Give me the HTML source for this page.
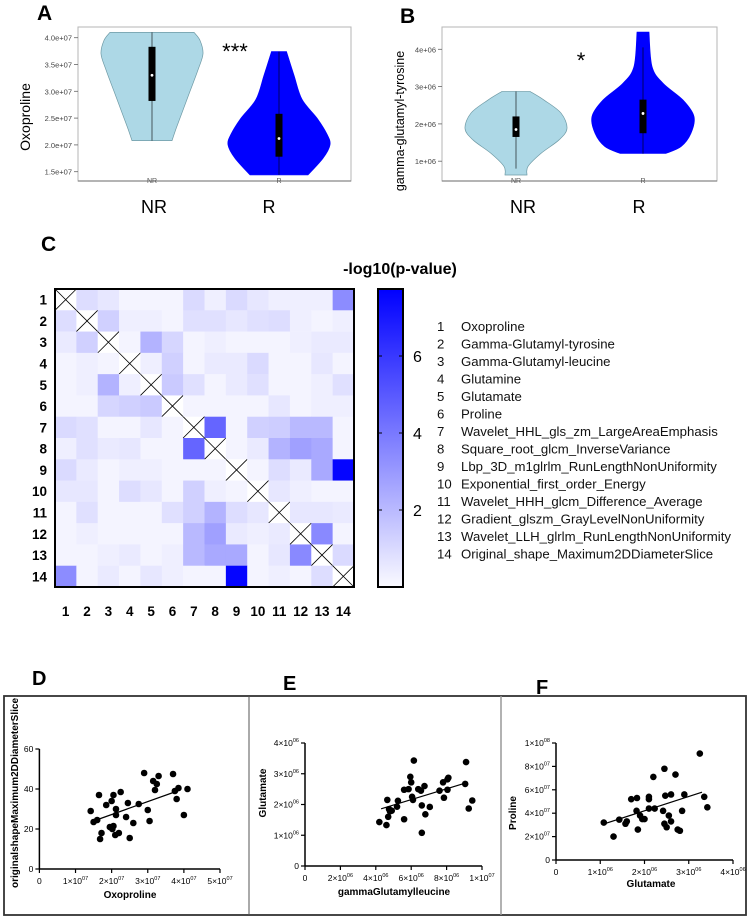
<!DOCTYPE html>
<html><head><meta charset="utf-8"><title>Figure</title>
<style>
html,body{margin:0;padding:0;background:#fff;}
svg{display:block;font-family:"Liberation Sans",Arial,sans-serif;}
</style></head>
<body>
<svg id="fig" width="749" height="918" viewBox="0 0 749 918" xmlns="http://www.w3.org/2000/svg">
<rect x="0" y="0" width="749" height="918" fill="#fff"/>
<text x="37" y="20" font-size="21" font-weight="bold">A</text>
<text x="400" y="23" font-size="21" font-weight="bold">B</text>
<text x="41" y="251" font-size="21" font-weight="bold">C</text>
<text x="32" y="685" font-size="20" font-weight="bold">D</text>
<text x="283" y="690" font-size="20" font-weight="bold">E</text>
<text x="536" y="694" font-size="20" font-weight="bold">F</text>

<g id="pa"></g>
<g id="pb"></g>
<g id="pc"></g>
<g id="pdef"></g>
</svg>
<script>
const NS="http://www.w3.org/2000/svg";
function mk(parent,tag,attrs,text){const e=document.createElementNS(NS,tag);for(const k in attrs)e.setAttribute(k,attrs[k]);if(text!==undefined)e.textContent=text;parent.appendChild(e);return e;}

// ---------- Violin data ----------
const aGroups=["NR","R"];
const aTicks=[1.5,2.0,2.5,3.0,3.5,4.0];
const aTickLabels=["1.5e+07","2.0e+07","2.5e+07","3.0e+07","3.5e+07","4.0e+07"];
const aNRProfileVal=[4.10,3.95,3.70,3.40,3.00,2.60,2.30,2.08];
const aNRProfileHW=[42,48,51,46,38,30,24,20];
const aRProfileVal=[3.74,3.30,2.85,2.50,2.20,2.00,1.75,1.44];
const aRProfileHW=[7.5,15,23,38,48,51,44,29];
const aBoxQ1=[2.82,1.78], aBoxQ3=[3.83,2.58], aMedian=[3.30,2.12];
const aWhiskLo=[2.08,1.44], aWhiskHi=[4.10,3.74];
const bGroups=["NR","R"];
const bTicks=[1,2,3,4];
const bTickLabels=["1e+06","2e+06","3e+06","4e+06"];
const bNRProfileVal=[2.87,2.64,2.29,1.88,1.57,1.21,0.86,0.63];
const bNRProfileHW=[14,28,45,51,43,25,12,11];
const bRProfileVal=[4.46,3.54,3.09,2.64,2.20,1.75,1.39,1.21];
const bRProfileHW=[6,9,20,40,51,48,38,23];
const bBoxQ1=[1.65,1.75], bBoxQ3=[2.20,2.65], bMedian=[1.85,2.28];
const bWhiskLo=[0.80,1.20], bWhiskHi=[2.87,4.05];

function smoothPath(pts){let d="M"+pts[0][0]+","+pts[0][1];for(let i=0;i<pts.length-1;i++){const p0=pts[i-1]||pts[i],p1=pts[i],p2=pts[i+1],p3=pts[i+2]||p2;const c1=[p1[0]+(p2[0]-p0[0])/6,p1[1]+(p2[1]-p0[1])/6];const c2=[p2[0]-(p3[0]-p1[0])/6,p2[1]-(p3[1]-p1[1])/6];d+=` C${c1[0]},${c1[1]} ${c2[0]},${c2[1]} ${p2[0]},${p2[1]}`;}return d;}
function violinPath(cx,vals,hws,y){const L=vals.map((v,i)=>[cx-hws[i],y(v)]);const R=vals.map((v,i)=>[cx+hws[i],y(v)]).reverse();
 let d=smoothPath(L);d+=" L"+R[0][0]+","+R[0][1];d+=smoothPath(R).replace(/^M[^C]*/," ");d+=" Z";return d;}

function violinPanel(g,o){
 const box=mk(g,"rect",{x:o.x0,y:27,width:o.x1-o.x0,height:154,fill:"none",stroke:"#b5b5b5","stroke-width":1});
 
 mk(g,"line",{x1:o.x0,y1:181,x2:o.x1,y2:181,stroke:"#888","stroke-width":1.2});
 o.ticks.forEach((t,i)=>{const yy=o.y(t);
  mk(g,"line",{x1:o.x0-4,y1:yy,x2:o.x0,y2:yy,stroke:"#666","stroke-width":0.8});
  const tl=mk(g,"text",{x:o.x0-6,y:yy+3,"font-size":7.5,"text-anchor":"end",fill:"#444"},o.tickLabels[i]);
  });
 const vs=[[o.nrV,o.nrH,"#add8e6","#6f9aa5"],[o.rV,o.rH,"#0000ff","#0000ff"]];
 vs.forEach((v,i)=>{const cx=o.cx[i];
  const p=mk(g,"path",{d:violinPath(cx,v[0],v[1],o.y),fill:v[2],stroke:v[3],"stroke-width":0.7});
  
  mk(g,"line",{x1:cx,y1:o.y(o.wHi[i]),x2:cx,y2:o.y(o.wLo[i]),stroke:"#000","stroke-width":0.6});
  const b=mk(g,"rect",{x:cx-3.5,y:o.y(o.q3[i]),width:7,height:o.y(o.q1[i])-o.y(o.q3[i]),fill:"#000"});
  
  mk(g,"circle",{cx:cx,cy:o.y(o.med[i]),r:1.4,fill:"#fff"});
  mk(g,"text",{x:cx,y:183,"font-size":7,"text-anchor":"middle",fill:"#555"},o.groups[i]);
  const bl=mk(g,"text",{x:o.bigX[i],y:213,"font-size":18,"text-anchor":"middle",fill:"#000"},o.groups[i]);
  
 });
 const st=mk(g,"text",{x:o.starX,y:o.starY,"font-size":22,"text-anchor":"middle"},o.star);
 
 const yt=mk(g,"text",{x:0,y:0,"font-size":o.tfs,"text-anchor":"middle",transform:`translate(${o.titleX},${o.titleY}) rotate(-90)`},o.title);
 
}
violinPanel(document.getElementById("pa"),{x0:78,x1:351,y:v=>37.7+(4.0-v)*53.6,ticks:aTicks,tickLabels:aTickLabels,
 nrV:aNRProfileVal,nrH:aNRProfileHW,rV:aRProfileVal,rH:aRProfileHW,q1:aBoxQ1,q3:aBoxQ3,med:aMedian,wLo:aWhiskLo,wHi:aWhiskHi,
 groups:aGroups,cx:[152,279],bigX:[154,269],star:"***",starX:235,starY:59,title:"Oxoproline",titleX:30,titleY:117,tfs:14});
violinPanel(document.getElementById("pb"),{x0:442,x1:717,y:v=>49.3+(4-v)*37.3,ticks:bTicks,tickLabels:bTickLabels,
 nrV:bNRProfileVal,nrH:bNRProfileHW,rV:bRProfileVal,rH:bRProfileHW,q1:bBoxQ1,q3:bBoxQ3,med:bMedian,wLo:bWhiskLo,wHi:bWhiskHi,
 groups:bGroups,cx:[516,643],bigX:[523,639],star:"*",starX:581,starY:68,title:"gamma-glutamyl-tyrosine",titleX:404,titleY:121,tfs:12.5});

// ---------- Heatmap ----------
const hmLabels=["1","2","3","4","5","6","7","8","9","10","11","12","13","14"];
const hmNames=["Oxoproline","Gamma-Glutamyl-tyrosine","Gamma-Glutamyl-leucine","Glutamine","Glutamate","Proline","Wavelet_HHL_gls_zm_LargeAreaEmphasis","Square_root_glcm_InverseVariance","Lbp_3D_m1glrlm_RunLengthNonUniformity","Exponential_first_order_Energy","Wavelet_HHH_glcm_Difference_Average","Gradient_glszm_GrayLevelNonUniformity","Wavelet_LLH_glrlm_RunLengthNonUniformity","Original_shape_Maximum2DDiameterSlice"];
const hmValues=[
[null,0.9,0.6,0.2,0.2,0.2,1.0,0.35,1.0,0.6,0.35,0.35,0.35,3.4],
[0.9,null,1.3,0.35,0.35,0.2,0.8,0.8,0.6,0.8,0.9,0.35,0.2,0.35],
[0.5,1.3,null,0.2,2.2,1.1,0.2,0.35,0.2,0.2,0.2,0.35,0.5,0.5],
[0.2,0.35,0.2,null,0.35,1.3,0.2,0.5,0.5,1.0,0.2,0.2,0.6,0.2],
[0.2,0.35,2.2,0.35,null,1.5,0.8,0.2,0.5,0.8,0.2,0.2,0.35,0.8],
[0.2,0.2,1.1,1.3,1.5,null,0.2,0.2,0.2,0.2,0.6,0.2,0.35,0.35],
[1.0,0.8,0.2,0.2,0.6,0.2,null,4.6,0.2,1.3,1.4,2.0,2.0,0.2],
[0.35,0.8,0.5,0.6,0.2,0.2,4.6,null,0.2,0.5,2.2,2.8,2.5,0.2],
[1.0,0.5,0.2,0.35,0.35,0.2,0.2,0.2,null,0.2,0.9,0.5,2.5,7.6],
[0.6,0.6,0.2,0.9,0.6,0.2,1.3,0.35,0.2,null,0.6,0.35,0.2,0.2],
[0.2,0.8,0.2,0.2,0.2,0.8,1.3,2.2,0.9,0.6,null,0.6,0.6,0.5],
[0.2,0.35,0.2,0.2,0.2,0.2,2.0,2.8,0.5,0.35,0.5,null,3.5,0.2],
[0.2,0.2,0.35,0.5,0.2,0.35,2.0,2.5,2.5,0.2,0.6,3.5,null,1.0],
[3.4,0.2,0.5,0.2,0.6,0.35,0.2,0.2,7.6,0.2,0.35,0.2,0.9,null]];
const cbTicks=[2,4,6];
const cbMax=7.74;
(function(){
 const g=document.getElementById("pc");
 const x0=55,y0=289,W=299,H=298,n=hmLabels.length,cw=W/n,ch=H/n;
 function col(v){const t=Math.max(0,Math.min(1,v/cbMax));const c=Math.round(250*(1-t));return `rgb(${c},${c},255)`;}
 const ttl=mk(g,"text",{x:400,y:274,"font-size":16,"font-weight":"bold","text-anchor":"middle"},"-log10(p-value)");
 
 for(let r=0;r<n;r++){for(let c=0;c<n;c++){const v=hmValues[r][c];const cx=x0+c*cw,cy=y0+r*ch;
  if(v===null){const cell=mk(g,"rect",{x:cx,y:cy,width:cw+0.3,height:ch+0.3,fill:"#fff"});
   
   mk(g,"line",{x1:cx,y1:cy,x2:cx+cw,y2:cy+ch,stroke:"#000","stroke-width":0.8});
   mk(g,"line",{x1:cx+cw,y1:cy,x2:cx,y2:cy+ch,stroke:"#000","stroke-width":0.8});}
  else{const cell=mk(g,"rect",{x:cx,y:cy,width:cw+0.3,height:ch+0.3,fill:col(v)});
   }}}
 mk(g,"rect",{x:x0,y:y0,width:W,height:H,fill:"none",stroke:"#000","stroke-width":2});
 hmLabels.forEach((l,i)=>{
  const rl=mk(g,"text",{x:47,y:y0+(i+0.5)*ch+5,"font-size":13.5,"font-weight":"bold","text-anchor":"end"},l);
  
  const cl=mk(g,"text",{x:x0+(i+0.5)*cw,y:616,"font-size":13.5,"font-weight":"bold","text-anchor":"middle"},l);
  });
 const defs=mk(g,"defs",{});const lg=mk(defs,"linearGradient",{id:"cbg",x1:0,y1:1,x2:0,y2:0});
 mk(lg,"stop",{offset:"0","stop-color":"rgb(250,250,255)"});mk(lg,"stop",{offset:"1","stop-color":"rgb(0,0,255)"});
 const cb=mk(g,"rect",{x:378,y:289,width:25,height:298,fill:"url(#cbg)",stroke:"#000","stroke-width":2});
 
 const cy=v=>587-v/cbMax*298;
 cbTicks.forEach(t=>{const yy=cy(t);
  mk(g,"line",{x1:378,y1:yy,x2:382,y2:yy,stroke:"#000","stroke-width":1});
  mk(g,"line",{x1:399,y1:yy,x2:403,y2:yy,stroke:"#000","stroke-width":1});
  const tl=mk(g,"text",{x:413,y:yy+6,"font-size":16},String(t));
  });
 hmNames.forEach((nm,i)=>{const yy=331+i*17.5;
  const a=mk(g,"text",{x:437,y:yy,"font-size":13.2,fill:"#111"},hmLabels[i]);
  
  const b=mk(g,"text",{x:461,y:yy,"font-size":13.2,fill:"#111"},nm);
  });
})();

// ---------- Scatter data ----------
const dX=[1.42,1.5,1.6,1.65,1.68,1.72,1.85,1.95,2.0,2.02,2.05,2.05,2.1,2.12,2.12,2.2,2.25,2.4,2.45,2.5,2.6,2.75,2.9,3.0,3.05,3.15,3.2,3.25,3.3,3.7,3.75,3.8,3.85,4.0,4.1];
const dY=[29,23.5,24.5,37,15,18,32,21,34,20,37,21.5,17,27,30,18,38.5,26,33,15.5,23,32.5,48,29.5,24,44,39.5,42.5,46.5,47.5,39,35,40.5,27,40];
const dFit=[[1.5,24],[3.9,39.5]];
const eX=[4.2,4.6,4.65,4.7,4.75,4.8,4.9,5.2,5.25,5.6,5.6,5.85,5.95,6.0,6.1,6.05,6.15,6.4,6.55,6.6,6.6,6.8,6.75,7.05,7.6,7.8,7.85,8.05,8.05,8.1,9.05,9.1,9.25,9.45];
const eY=[1.43,1.33,2.15,1.6,1.85,1.78,1.8,1.93,2.12,1.52,2.48,2.5,2.9,2.72,2.15,2.25,3.43,2.5,2.45,1.08,1.97,1.68,2.6,1.92,2.45,2.72,2.22,2.48,2.82,2.87,2.67,3.38,1.87,2.13];
const eFit=[[4.3,1.86],[9.2,2.72]];
const fX=[1.08,1.3,1.43,1.57,1.6,1.7,1.82,1.83,1.85,1.9,1.95,2.0,2.1,2.1,2.1,2.2,2.23,2.42,2.45,2.45,2.47,2.5,2.55,2.6,2.6,2.7,2.75,2.8,2.85,2.9,3.25,3.35,3.42];
const fY=[3.2,2.0,3.45,3.1,3.3,5.2,4.2,5.3,2.6,3.8,3.5,3.5,4.4,5.2,5.4,7.1,4.4,4.2,7.8,3.1,5.5,2.8,3.8,3.3,5.6,7.3,2.6,2.5,4.2,5.6,9.1,5.4,4.5];
const fFit=[[1.1,3.1],[3.3,5.8]];
const dXTicks=[0,1,2,3,4,5], dXTickM=["0","1","2","3","4","5"], dXTickE=["","07","07","07","07","07"];
const dYTicks=[0,20,40,60];
const eXTicks=[0,2,4,6,8,10], eXTickM=["0","2","4","6","8","1"], eXTickE=["","06","06","06","06","07"];
const eYTicks=[0,1,2,3,4], eYTickM=["0","1","2","3","4"], eYTickE=["","06","06","06","06"];
const fXTicks=[0,1,2,3,4], fXTickM=["0","1","2","3","4"], fXTickE=["","06","06","06","06"];
const fYTicks=[0,2,4,6,8,10], fYTickM=["0","2","4","6","8","1"], fYTickE=["","07","07","07","07","08"];

(function(){
 const g=document.getElementById("pdef");
 const fr=mk(g,"rect",{x:4,y:696,width:742,height:219,fill:"none",stroke:"#333","stroke-width":1.8});
 
 mk(g,"line",{x1:249,y1:696,x2:249,y2:915,stroke:"#555","stroke-width":1});
 mk(g,"line",{x1:501,y1:696,x2:501,y2:915,stroke:"#999","stroke-width":1.5});
 function lbl(parent,x,y,m,e,anchor){const t=mk(parent,"text",{x:x,y:y,"font-size":8.5,"text-anchor":anchor,fill:"#000"});
  
  if(e===""){t.textContent=m;}else{mk(t,"tspan",{},m+"×10");mk(t,"tspan",{"font-size":5.5,dy:-4},e);}return t;}
 function panel(o){
  const sx=v=>o.px0+(v-o.xmin)/(o.xmax-o.xmin)*(o.px1-o.px0);
  const sy=v=>o.py0-(v-o.ymin)/(o.ymax-o.ymin)*(o.py0-o.py1);
  const ax=mk(g,"g",{});
  mk(ax,"line",{x1:o.px0,y1:o.py0,x2:o.px1,y2:o.py0,stroke:"#000","stroke-width":1.5});
  mk(ax,"line",{x1:o.px0,y1:o.py0,x2:o.px0,y2:o.py1,stroke:"#000","stroke-width":1.5});
  o.xt.forEach((t,i)=>{const xx=sx(t);mk(ax,"line",{x1:xx,y1:o.py0,x2:xx,y2:o.py0+4,stroke:"#000","stroke-width":1.2});
   lbl(ax,xx,o.py0+15,o.xm[i],o.xe[i],"middle");});
  o.yt.forEach((t,i)=>{const yy=sy(t);mk(ax,"line",{x1:o.px0-4,y1:yy,x2:o.px0,y2:yy,stroke:"#000","stroke-width":1.2});
   lbl(ax,o.px0-6,yy+3,o.ym[i],o.ye[i],"end");});
  o.xs.forEach((v,i)=>{const c=mk(ax,"circle",{cx:sx(v),cy:sy(o.ys[i]),r:3.3,fill:"#000"});
   });
  const fl=mk(ax,"line",{x1:sx(o.fit[0][0]),y1:sy(o.fit[0][1]),x2:sx(o.fit[1][0]),y2:sy(o.fit[1][1]),stroke:"#000","stroke-width":1.2});
  
  const xl=mk(ax,"text",{x:o.xlx,y:o.xly,"font-size":10,"font-weight":"bold","text-anchor":"middle"},o.xlabel);
  
  const yl=mk(ax,"text",{x:0,y:0,"font-size":o.ylfs,"font-weight":"bold","text-anchor":"middle",transform:`translate(${o.ylx},${o.yly}) rotate(-90)`},o.ylabel);
  
 }
 panel({name:"scatter-d",px0:39.4,px1:220,py0:869,py1:749,xmin:0,xmax:5,ymin:0,ymax:60,xt:dXTicks,xm:dXTickM,xe:dXTickE,
  yt:dYTicks,ym:dYTicks.map(String),ye:dYTicks.map(()=>""),xs:dX,ys:dY,fit:dFit,xlabel:"Oxoproline",xlx:130,xly:898,
  ylabel:"originalshapeMaximum2DDiameterSlice",ylx:18,yly:793,ylfs:10});
 panel({name:"scatter-e",px0:305,px1:482,py0:866,py1:743,xmin:0,xmax:10,ymin:0,ymax:4,xt:eXTicks,xm:eXTickM,xe:eXTickE,
  yt:eYTicks,ym:eYTickM,ye:eYTickE,xs:eX,ys:eY,fit:eFit,xlabel:"gammaGlutamylleucine",xlx:394,xly:895,
  ylabel:"Glutamate",ylx:266,yly:793,ylfs:10});
 panel({name:"scatter-f",px0:556,px1:733,py0:860,py1:743,xmin:0,xmax:4,ymin:0,ymax:10,xt:fXTicks,xm:fXTickM,xe:fXTickE,
  yt:fYTicks,ym:fYTickM,ye:fYTickE,xs:fX,ys:fY,fit:fFit,xlabel:"Glutamate",xlx:651,xly:887,
  ylabel:"Proline",ylx:516,yly:813,ylfs:10});
})();
</script>
</body></html>
